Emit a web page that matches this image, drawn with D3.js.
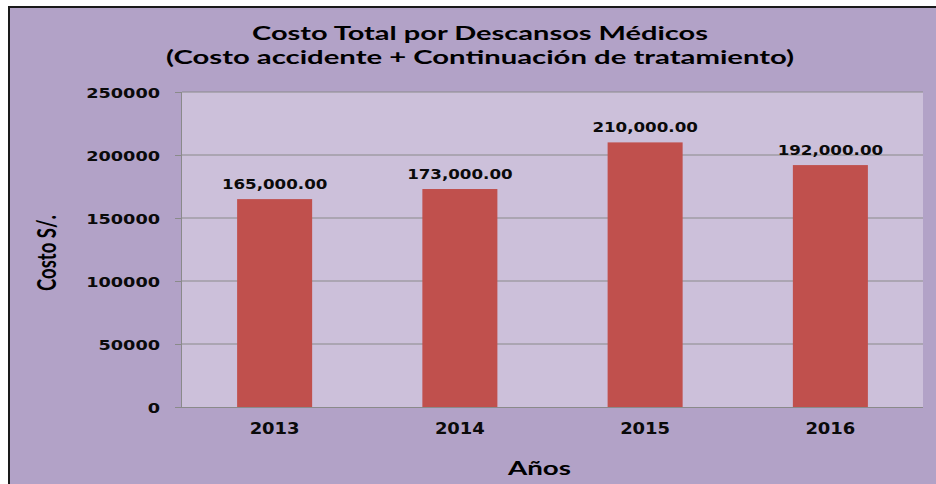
<!DOCTYPE html>
<html>
<head>
<meta charset="utf-8">
<script src="https://cdn.jsdelivr.net/npm/d3@7"></script>
<style>
  html, body { margin: 0; padding: 0; background: #ffffff; }
  svg { display: block; }
</style>
</head>
<body>
<svg id="chart" width="936" height="484"></svg>
<script>
const years = ["2013", "2014", "2015", "2016"];
const costs = [165000, 173000, 210000, 192000];
const yTicks = [0, 50000, 100000, 150000, 200000, 250000];
const titleLines = ["Costo Total por Descansos Médicos", "(Costo accidente + Continuación de tratamiento)"];
const xTitle = "Años";
const yTitle = "Costo S/.";

const svg = d3.select("#chart");
const plot = { left: 182, right: 923, top: 92, bottom: 407 };

// outer chart area
svg.append("rect")
  .attr("x", 9).attr("y", 7).attr("width", 960).attr("height", 500)
  .attr("fill", "#b2a2c7").attr("stroke", "#1a1a1a").attr("stroke-width", 2);

// plot background
svg.append("rect")
  .attr("x", plot.left).attr("y", plot.top)
  .attr("width", plot.right - plot.left).attr("height", plot.bottom - plot.top)
  .attr("fill", "#ccc0da");

const x = d3.scaleBand().domain(years).range([plot.left, plot.right])
  .paddingInner(0.595).paddingOuter(0.2975);
const y = d3.scaleLinear().domain([0, 250000]).range([plot.bottom, plot.top]);

// gridlines
svg.append("g").selectAll("line").data(yTicks.filter(d => d > 0)).join("line")
  .attr("x1", plot.left).attr("x2", plot.right)
  .attr("y1", d => y(d)).attr("y2", d => y(d))
  .attr("stroke", "#8a8a8a").attr("stroke-width", 1);

// y axis
const yAxis = svg.append("g").attr("transform", `translate(${plot.left},0)`)
  .call(d3.axisLeft(y).tickValues(yTicks).tickSize(7).tickPadding(15).tickFormat(d3.format("d")));
yAxis.select(".domain").attr("stroke", "#8a8a8a").attr("d", `M-0.5,${plot.top}V${plot.bottom}`);
yAxis.selectAll(".tick line").attr("stroke", "#8a8a8a");
yAxis.selectAll(".tick text")
  .attr("font-family", "DejaVu Sans").attr("font-weight", "bold").attr("font-size", 14)
  .attr("fill", "#0a0a0a").attr("dy", "0.36em")
  .attr("textLength", d => String(d).length * 12.3).attr("lengthAdjust", "spacingAndGlyphs");

// bars
svg.append("g").selectAll("rect").data(years).join("rect")
  .attr("x", d => x(d)).attr("width", x.bandwidth())
  .attr("y", (d, i) => y(costs[i])).attr("height", (d, i) => y(0) - y(costs[i]))
  .attr("fill", "#c0504d");

// x axis line
svg.append("line")
  .attr("x1", plot.left - 7).attr("x2", plot.right)
  .attr("y1", plot.bottom + 0.5).attr("y2", plot.bottom + 0.5)
  .attr("stroke", "#8a8a8a").attr("stroke-width", 1);

// x tick labels
svg.append("g").selectAll("text").data(years).join("text")
  .attr("x", d => x(d) + x.bandwidth() / 2).attr("y", 434)
  .attr("text-anchor", "middle")
  .attr("font-family", "DejaVu Sans").attr("font-weight", "bold").attr("font-size", 15)
  .attr("fill", "#0a0a0a")
  .attr("textLength", 50).attr("lengthAdjust", "spacingAndGlyphs")
  .text(d => d);

// data labels
const fmt = d3.format(",.2f");
svg.append("g").selectAll("text").data(years).join("text")
  .attr("x", d => x(d) + x.bandwidth() / 2).attr("y", (d, i) => y(costs[i]) - 10.5)
  .attr("text-anchor", "middle")
  .attr("font-family", "DejaVu Sans").attr("font-weight", "bold").attr("font-size", 14)
  .attr("fill", "#0a0a0a")
  .attr("textLength", 105.5).attr("lengthAdjust", "spacingAndGlyphs")
  .text((d, i) => fmt(costs[i]));

// title
const titleY = [40, 64];
const titleW = [456, 628];
svg.append("g").selectAll("text").data(titleLines).join("text")
  .attr("x", 480).attr("y", (d, i) => titleY[i])
  .attr("text-anchor", "middle")
  .attr("font-family", "Lato").attr("font-weight", "bold").attr("font-size", 19.5)
  .attr("fill", "#000")
  .attr("textLength", (d, i) => titleW[i]).attr("lengthAdjust", "spacingAndGlyphs")
  .text(d => d);

// x axis title
svg.append("text")
  .attr("x", 539.5).attr("y", 475)
  .attr("text-anchor", "middle")
  .attr("font-family", "Lato").attr("font-weight", "bold").attr("font-size", 19.5)
  .attr("fill", "#000")
  .attr("textLength", 63).attr("lengthAdjust", "spacingAndGlyphs")
  .text(xTitle);

// y axis title
svg.append("text")
  .attr("transform", "translate(56,253) scale(1.45,1) rotate(-90)")
  .attr("text-anchor", "middle")
  .attr("font-family", "Lato").attr("font-weight", "bold").attr("font-size", 18)
  .attr("fill", "#000")
  .attr("textLength", 76).attr("lengthAdjust", "spacingAndGlyphs")
  .text(yTitle);
</script>
</body>
</html>
